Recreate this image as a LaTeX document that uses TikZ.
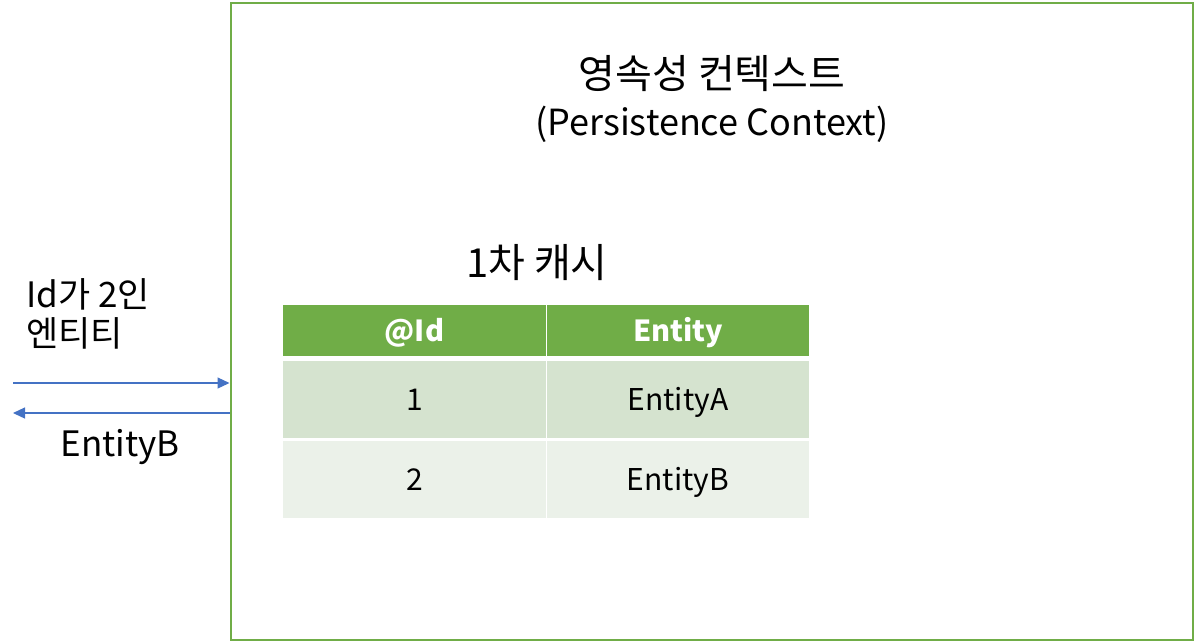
\documentclass[tikz,border=0pt]{standalone}
\usepackage{fontspec}
\setmainfont{Noto Sans CJK KR}
\usetikzlibrary{arrows.meta}
\definecolor{cgreen}{HTML}{70AD47}
\definecolor{crow1}{HTML}{D5E3CF}
\definecolor{crow2}{HTML}{EBF1E9}
\definecolor{cblue}{HTML}{4472C4}
\tikzset{
  cell/.style={anchor=north west, inner sep=0pt, outer sep=0pt, minimum width=#1, text=black, text height=22pt, text depth=0pt, font=\fontsize{30}{36}\selectfont},
  head/.style={fill=cgreen, text=white, font=\fontsize{29}{36}\selectfont\bfseries},
  lbl/.style={inner sep=0pt, font=\fontsize{35}{40}\selectfont},
  conn/.style={cblue, line width=1.2pt, -{Triangle[length=12pt,width=11pt]}}
}
\begin{document}
\begin{tikzpicture}[x=1pt,y=-1pt]
\useasboundingbox (0,0) rectangle (1194,641);
\node[draw=cgreen, line width=2.5pt, anchor=north west, minimum width=962pt, minimum height=637pt, inner sep=0pt] (ctx) at (229.5,1.5) {};
\node[lbl, font=\fontsize{40}{40}\selectfont] (title1) at (712,74) {영속성 컨텍스트};
\node[lbl, font=\fontsize{36}{40}\selectfont] (title2) at (712,124) {(Persistence Context)};
\node[lbl, font=\fontsize{40}{40}\selectfont] (cache) at (537,263) {1차 캐시};
% table
\node[cell=263pt, minimum height=51pt, head] (h1) at (283,305) {@Id};
\node[cell=262pt, minimum height=51pt, head] (h2) at (547,305) {Entity};
\node[cell=263pt, minimum height=77pt, fill=crow1] (a1) at (283,361) {1};
\node[cell=262pt, minimum height=77pt, fill=crow1] (a2) at (547,361) {EntityA};
\node[cell=263pt, minimum height=77pt, fill=crow2] (b1) at (283,441) {2};
\node[cell=262pt, minimum height=77pt, fill=crow2] (b2) at (547,441) {EntityB};
% left side
\node[lbl, align=left, anchor=west, font=\fontsize{35}{39}\selectfont] (req) at (26,314) {Id가 2인\\엔티티};
\node[lbl] (res) at (120,447) {EntityB};
\coordinate (s1) at (13,383);
\coordinate (e1) at (ctx.west |- s1);
\coordinate (s2) at (ctx.west |- 0,413);
\coordinate (e2) at (13,413);
\draw[conn] (s1) -- (e1);
\draw[conn] (s2) -- (e2);
\end{tikzpicture}
\end{document}
